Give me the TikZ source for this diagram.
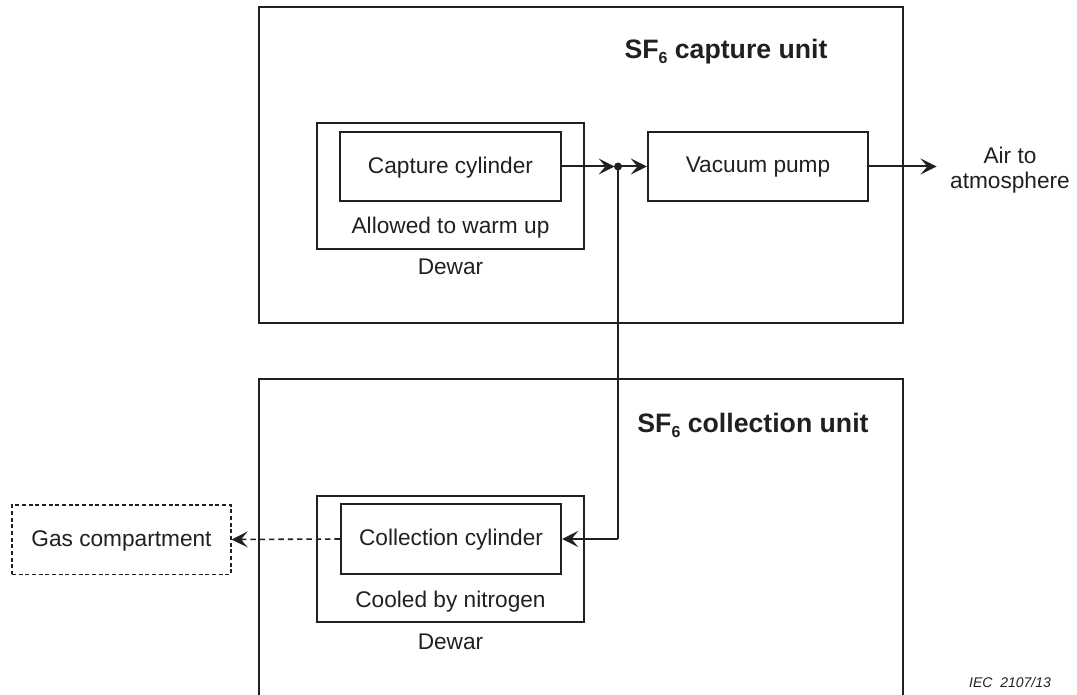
\documentclass[tikz,border=0pt]{standalone}
\usepackage{fontspec}
\setmainfont{Liberation Sans}
\usetikzlibrary{arrows.meta}
\definecolor{ink}{RGB}{35,31,32}
\begin{document}
\begin{tikzpicture}[x=0.75pt,y=-0.75pt,
  every node/.style={text=ink},
  lbl/.style={font=\fontsize{17}{19}\selectfont, inner sep=0pt},
  unitbox/.style={draw=ink, line width=1.5pt, inner sep=0pt, minimum width=483pt},
  dewarbox/.style={draw=ink, line width=1.3pt, inner sep=0pt, minimum width=200.25pt, minimum height=94.5pt},
  partbox/.style={draw=ink, line width=1.3pt, inner sep=0pt, minimum width=165.5pt, minimum height=52pt,
    font=\fontsize{17}{19}\selectfont, text depth=2pt},
  title/.style={font=\fontsize{20}{24}\selectfont\bfseries, inner sep=0pt},
  tip/.style={-{Stealth[length=12pt,width=12pt,inset=5pt]}},
  flow/.style={draw=ink, line width=1.5pt, tip},
  pipe/.style={draw=ink, line width=1.5pt},
  dashflow/.style={draw=ink, line width=1.2pt, dash pattern=on 4pt off 3pt, tip}
]
\useasboundingbox (0,0) rectangle (1077,695);

% SF6 capture unit
\node[unitbox, minimum height=237pt] (capunit) at (581,165) {};
\node[title] (captitle) at (726,52) {SF\raisebox{-0.35ex}{\fontsize{12}{12}\selectfont 6} capture unit};
\node[dewarbox] (capdewar) at (450.5,186) {};
\node[partbox] (capcyl) at (450.5,166.5) {Capture cylinder};
\node[lbl] (warm) at (450.5,228) {Allowed to warm up};
\node[lbl] (capdewarlbl) at (450.5,267) {Dewar};
\node[partbox] (pump) at (758,166.5) {Vacuum pump};
\node[lbl, align=center] (air) at (1010,170) {Air to\\atmosphere};

% SF6 collection unit (its lower edge runs off the page)
\node[unitbox, minimum height=255pt] (colunit) at (581,549) {};
\node[title] (coltitle) at (753,425) {SF\raisebox{-0.35ex}{\fontsize{12}{12}\selectfont 6} collection unit};
\node[dewarbox] (coldewar) at (450.5,559) {};
\node[partbox, minimum height=52.5pt] (colcyl) at (451,539) {Collection cylinder};
\node[lbl] (cool) at (450.5,602) {Cooled by nitrogen};
\node[lbl] (coldewarlbl) at (450.5,642) {Dewar};

% External gas compartment
\node[partbox, line width=1pt, dash pattern=on 3pt off 2pt, minimum width=164.25pt] (gas) at (121.5,539.5) {Gas compartment};

% Piping
\coordinate (junc) at (618,166.5);
\coordinate (bend) at (618,539);
\draw[flow] (capcyl.east) -- ([xshift=-2.5pt]junc);
\draw[flow] (junc) -- (pump.west);
\fill[ink] (junc) circle (3pt);
\draw[flow] (pump.east) -- ([xshift=-10pt]air.west |- pump.east);
\draw[pipe] (junc) -- (bend);
\draw[flow] (bend) -- (colcyl.east);
\draw[dashflow] (colcyl.west) -- (gas.east);

\node[font=\fontsize{10.5}{12}\selectfont\itshape, inner sep=0pt] (ref) at (1010,682) {IEC\ \ 2107/13};
\end{tikzpicture}
\end{document}
